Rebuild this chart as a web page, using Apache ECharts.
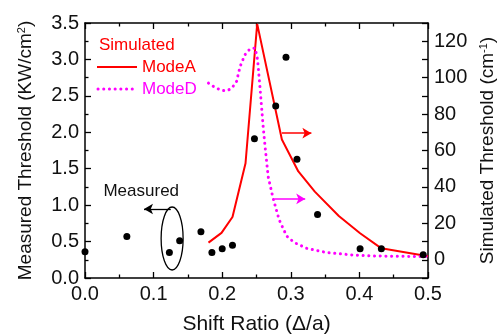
<!DOCTYPE html>
<html>
<head>
<meta charset="utf-8">
<script src="https://cdn.jsdelivr.net/npm/echarts@6/dist/echarts.min.js"></script>
<style>
  html, body { margin: 0; padding: 0; background: #fff; }
  #chart { width: 499px; height: 334px; }
</style>
</head>
<body>
<div id="chart"></div>
<script>
// measured threshold (left axis, KW/cm2)
const measShift = [0, 0.061, 0.123, 0.138, 0.169, 0.185, 0.200, 0.215, 0.247, 0.278, 0.293, 0.309, 0.339, 0.401, 0.432, 0.493];
const measured  = [0.36, 0.57, 0.35, 0.51, 0.635, 0.35, 0.40, 0.45, 1.91, 2.36, 3.03, 1.63, 0.87, 0.40, 0.40, 0.32];

// simulated threshold (right axis, cm-1)
const shiftA = [0.180, 0.199, 0.215, 0.234, 0.251, 0.287, 0.311, 0.335, 0.370, 0.401, 0.432, 0.500];
const modeA  = [9.4, 14.8, 23.5, 53, 129.5, 66, 48.5, 37.4, 24, 14.6, 6.3, 2];

const shiftD = [0.180, 0.190, 0.199, 0.207, 0.214, 0.221, 0.226, 0.233, 0.241, 0.248, 0.2515, 0.255, 0.2595, 0.262, 0.267, 0.274, 0.283, 0.294, 0.305, 0.323, 0.352, 0.391, 0.420, 0.460, 0.500];
const modeD  = [97, 94.5, 93, 92.8, 94.2, 98, 106, 112.5, 116, 116.2, 110, 95, 74, 64, 45.7, 34, 22, 13, 9.5, 6.3, 4, 2.6, 2.1, 1.9, 1.8];

const xTicks = [0, 0.1, 0.2, 0.3, 0.4, 0.5];
const rightTicks = [0, 20, 40, 60, 80, 100, 120];

const FONT = '"Liberation Sans", Arial, sans-serif';
const zip = (xs, ys) => xs.map((x, i) => [x, ys[i]]);

const chart = echarts.init(document.getElementById('chart'));

const tick = { show: true, inside: true, length: 6, lineStyle: { color: '#000', width: 1.3 } };
const minor = { show: true, splitNumber: 2, length: 3.5, lineStyle: { color: '#000', width: 1.3 } };
const axisLine = { show: true, onZero: false, lineStyle: { color: '#000', width: 1.5 } };

const option = {
  animation: false,
  grid: { left: 85, right: 71, top: 23, bottom: 56, containLabel: false, outerBoundsMode: 'none' },
  xAxis: [
    {
      type: 'value', min: 0, max: 0.5, interval: 0.1,
      name: 'Shift Ratio (\u0394/a)', nameLocation: 'middle', nameGap: 36,
      nameTextStyle: { fontSize: 21, fontFamily: FONT, color: '#111' },
      axisLine: axisLine, axisTick: tick, minorTick: minor, splitLine: { show: false },
      axisLabel: {
        fontSize: 20, fontFamily: FONT, color: '#111', margin: 6,
        formatter: v => xTicks.some(t => Math.abs(t - v) < 1e-9) ? v.toFixed(1) : ''
      }
    },
    {
      type: 'value', min: 0, max: 0.5, interval: 0.1, position: 'top',
      axisLine: axisLine, axisTick: tick, minorTick: minor, splitLine: { show: false },
      axisLabel: { show: false }
    }
  ],
  yAxis: [
    {
      type: 'value', min: 0, max: 3.5, interval: 0.5,
      name: 'Measured Threshold (KW/cm{sup|2})', nameLocation: 'middle', nameGap: 50,
      nameTextStyle: {
        fontSize: 19, fontFamily: FONT, color: '#111',
        rich: { sup: { fontSize: 11, fontFamily: FONT, color: '#111', verticalAlign: 'top' } }
      },
      axisLine: axisLine, axisTick: tick, minorTick: minor, splitLine: { show: false },
      axisLabel: { fontSize: 20, fontFamily: FONT, color: '#111', margin: 6, formatter: v => v.toFixed(1) }
    },
    {
      type: 'value', min: -10, max: 130, interval: 10, position: 'right',
      name: 'Simulated Threshold (cm{sup|-1})', nameLocation: 'middle', nameGap: 49,
      nameTextStyle: {
        fontSize: 19, fontFamily: FONT, color: '#111',
        rich: { sup: { fontSize: 11, fontFamily: FONT, color: '#111', verticalAlign: 'top' } }
      },
      axisLine: axisLine, axisTick: tick, splitLine: { show: false },
      axisLabel: {
        fontSize: 20, fontFamily: FONT, color: '#111', margin: 6,
        formatter: v => rightTicks.includes(v) ? String(v) : ''
      }
    }
  ],
  series: [
    {
      name: 'Measured', type: 'scatter', xAxisIndex: 0, yAxisIndex: 0,
      symbolSize: 7, itemStyle: { color: '#000', opacity: 1 }, clip: false, z: 5,
      data: zip(measShift, measured),
      markLine: {
        silent: true, symbol: ['none', 'arrow'], symbolSize: [8, 9],
        label: { show: false },
        lineStyle: { color: '#000', width: 1.3, type: 'solid' },
        data: [[{ coord: [0.125, 0.947] }, { coord: [0.086, 0.947] }]]
      }
    },
    {
      name: 'ModeA', type: 'line', xAxisIndex: 0, yAxisIndex: 1,
      symbol: 'none', lineStyle: { color: '#ff0000', width: 2 }, itemStyle: { color: '#ff0000' },
      data: zip(shiftA, modeA),
      markLine: {
        silent: true, symbol: ['none', 'arrow'], symbolSize: [8, 9],
        label: { show: false },
        lineStyle: { color: '#ff0000', width: 1.5, type: 'solid' },
        data: [[{ coord: [0.287, 69.5] }, { coord: [0.330, 69.5] }]]
      }
    },
    {
      name: 'ModeD', type: 'line', xAxisIndex: 0, yAxisIndex: 1,
      symbol: 'none', itemStyle: { color: '#ff00ff' },
      lineStyle: { color: '#ff00ff', width: 3, type: [0.1, 5.6], cap: 'round' },
      data: zip(shiftD, modeD),
      markLine: {
        silent: true, symbol: ['none', 'arrow'], symbolSize: [8, 9],
        label: { show: false },
        lineStyle: { color: '#ff00ff', width: 1.5, type: 'solid' },
        data: [[{ coord: [0.276, 33.4] }, { coord: [0.321, 33.4] }]]
      }
    }
  ]
};

chart.setOption(option);

// annotations: legend, "Measured" label and the ellipse round the two points
const c = chart.convertToPixel({ xAxisIndex: 0, yAxisIndex: 0 }, [0.127, 0.542]);
const lbl = chart.convertToPixel({ xAxisIndex: 0, yAxisIndex: 0 }, [0.082, 1.19]);
chart.setOption({
  graphic: [
    {
      type: 'text', x: 99, y: 45, z: 10,
      style: { text: 'Simulated', fill: '#ff0000', font: '17px ' + FONT, verticalAlign: 'middle', align: 'left' }
    },
    {
      type: 'line', z: 10,
      shape: { x1: 97, y1: 67, x2: 137, y2: 67 },
      style: { stroke: '#ff0000', lineWidth: 2 }
    },
    {
      type: 'text', x: 142, y: 67, z: 10,
      style: { text: 'ModeA', fill: '#ff0000', font: '17px ' + FONT, verticalAlign: 'middle', align: 'left' }
    },
    {
      type: 'line', z: 10,
      shape: { x1: 98, y1: 89, x2: 136, y2: 89 },
      style: { stroke: '#ff00ff', lineWidth: 3, lineDash: [0.1, 5.6], lineCap: 'round' }
    },
    {
      type: 'text', x: 142, y: 89, z: 10,
      style: { text: 'ModeD', fill: '#ff00ff', font: '17px ' + FONT, verticalAlign: 'middle', align: 'left' }
    },
    {
      type: 'text', x: lbl[0], y: lbl[1], z: 10,
      style: { text: 'Measured', fill: '#111', font: '17px ' + FONT, verticalAlign: 'middle', align: 'center' }
    },
    {
      type: 'ellipse', z: 10,
      shape: { cx: c[0], cy: c[1], rx: 11, ry: 31.5 },
      style: { fill: 'none', stroke: '#000', lineWidth: 1.3 }
    }
  ]
});
</script>
</body>
</html>
